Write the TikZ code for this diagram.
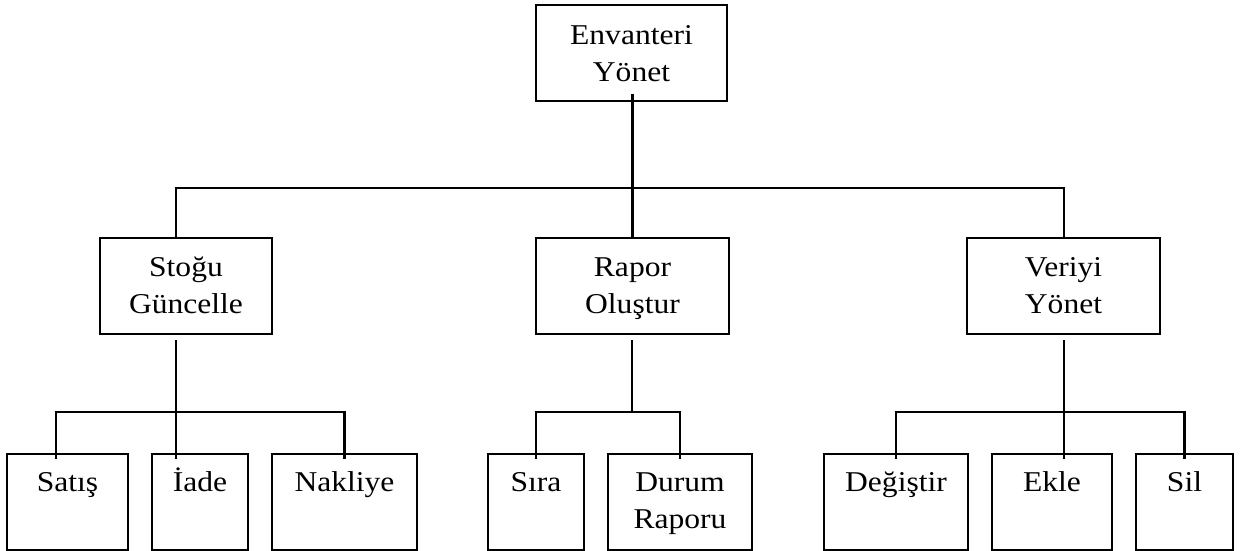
\documentclass[tikz,border=0pt]{standalone}
\usepackage{fontspec}
\setmainfont{Liberation Serif}[FakeStretch=1.1]
\usetikzlibrary{calc}
% two centred lines, baseline on the first one
\newcommand\twoline[2]{\vtop{\halign{\hfil##\hfil\cr#1\cr#2\cr}}}
\begin{document}
\begin{tikzpicture}[x=1pt,y=-1pt,
  box/.style={draw,line width=2.2pt,minimum height=96pt,inner sep=0pt},
  lbl/.style={anchor=base,inner sep=0pt,font=\fontsize{28.7}{36.7}\selectfont},
  wire/.style={line width=2.4pt}]
\useasboundingbox (0,0) rectangle (1247,551);

% boxes
\node[box,minimum width=191pt] (root)   at (631.5,53) {};
\node[box,minimum width=172pt] (stogu)  at (186,286) {};
\node[box,minimum width=193pt] (rapor)  at (632.5,286) {};
\node[box,minimum width=193pt] (veri)   at (1063.5,286) {};
\node[box,minimum width=121pt] (satis)  at (67.5,502) {};
\node[box,minimum width=96pt]  (iade)   at (200,502) {};
\node[box,minimum width=145pt] (nakl)   at (344.5,502) {};
\node[box,minimum width=96pt]  (sira)   at (536,502) {};
\node[box,minimum width=144pt] (durum)  at (680,502) {};
\node[box,minimum width=144pt] (degis)  at (896,502) {};
\node[box,minimum width=120pt] (ekle)   at (1052,502) {};
\node[box,minimum width=97pt]  (sil)    at (1184.5,502) {};

% texts
\node[lbl] (t-root)  at ($(root.north)+(0,41)$)  {\twoline{Envanteri}{Yönet}};
\node[lbl] (t-stogu) at ($(stogu.north)+(0,40)$) {\twoline{Stoğu}{Güncelle}};
\node[lbl] (t-rapor) at ($(rapor.north)+(0,40)$) {\twoline{Rapor}{Oluştur}};
\node[lbl] (t-veri)  at ($(veri.north)+(0,40)$)  {\twoline{Veriyi}{Yönet}};
\node[lbl] (t-satis) at ($(satis.north)+(0,39)$) {Satış};
\node[lbl] (t-iade)  at ($(iade.north)+(0,39)$)  {İade};
\node[lbl] (t-nakl)  at ($(nakl.north)+(0,39)$)  {Nakliye};
\node[lbl] (t-sira)  at ($(sira.north)+(0,39)$)  {Sıra};
\node[lbl] (t-durum) at ($(durum.north)+(0,39)$) {\twoline{Durum}{Raporu}};
\node[lbl] (t-degis) at ($(degis.north)+(0,39)$) {Değiştir};
\node[lbl] (t-ekle)  at ($(ekle.north)+(0,39)$)  {Ekle};
\node[lbl] (t-sil)   at ($(sil.north)+(0,39)$)   {Sil};

% junction points of the tree
\coordinate (top-l) at (176,188);
\coordinate (top-r) at (1064,188);
\coordinate (sg-j)  at (176,412);
\coordinate (sg-l)  at (56,412);
\coordinate (rp-j)  at (632,412);
\coordinate (vr-j)  at (1064,412);

% first level
\draw[wire] ($(root.south -| rapor.north)+(0,-8)$) -- (rapor.north);
\draw[wire] (stogu.north -| top-l) -- (top-l) -- (top-r) -- (veri.north -| top-r);

% under Stoğu Güncelle
\draw[wire] ($(stogu.south -| sg-j)+(0,5)$) -- ($(iade.north -| sg-j)+(0,6)$);
\draw[wire] ($(satis.north -| sg-l)+(0,6)$) -- (sg-l) -- (nakl.north |- sg-j) -- ($(nakl.north)+(0,6)$);

% under Rapor Oluştur
\draw[wire] ($(rapor.south -| rp-j)+(0,5)$) -- (rp-j);
\draw[wire] ($(sira.north)+(0,6)$) -- (sira.north |- rp-j) -- (durum.north |- rp-j) -- ($(durum.north)+(0,6)$);

% under Veriyi Yönet
\draw[wire] ($(veri.south -| vr-j)+(0,5)$) -- ($(ekle.north -| vr-j)+(0,6)$);
\draw[wire] ($(degis.north)+(0,6)$) -- (degis.north |- vr-j) -- (sil.north |- vr-j) -- ($(sil.north)+(0,6)$);
\end{tikzpicture}
\end{document}
